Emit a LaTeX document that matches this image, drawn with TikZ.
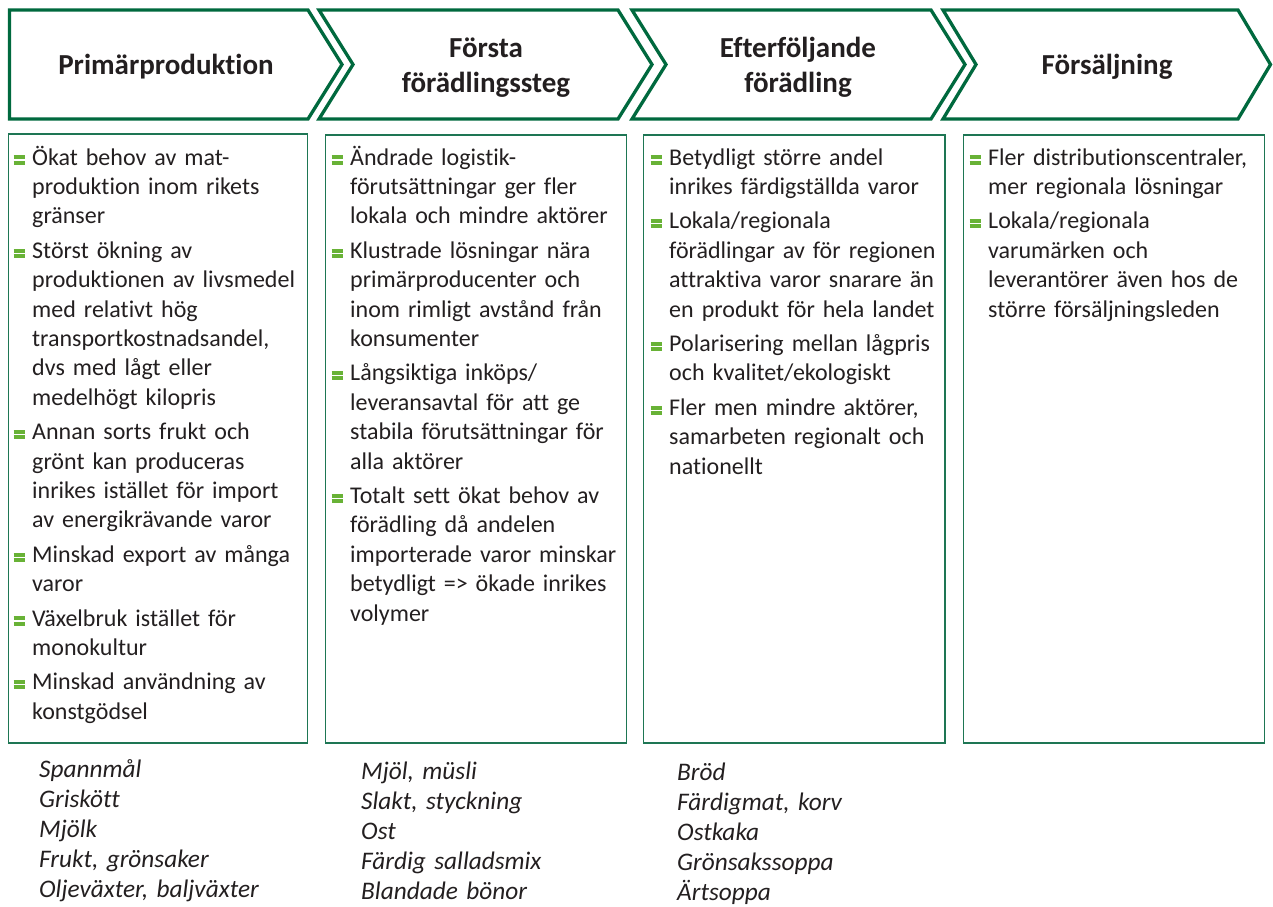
\documentclass[tikz,border=0pt]{standalone}
\usepackage{fontspec}
\setmainfont{Carlito}[Ligatures={NoCommon,TeX}]
\definecolor{dkgreen}{RGB}{0,105,62}
\definecolor{boxgreen}{RGB}{30,118,84}
\definecolor{bulgreen}{RGB}{104,178,54}
\definecolor{txt}{RGB}{35,31,32}
\newcommand\gbul{\leavevmode\llap{\textcolor{bulgreen}{\rlap{\rule[0.4pt]{11.5pt}{4pt}}\rule[5.6pt]{11.5pt}{4pt}}\hspace{7pt}}}
\newcommand\igap{\\[5pt]}
\begin{document}
\begin{tikzpicture}[x=1pt,y=-1pt,
  chev/.style={draw=dkgreen, line width=3.3pt, fill=white, line join=miter},
  colbox/.style={draw=boxgreen, line width=1.6pt},
  head/.style={anchor=base, inner sep=0, align=center, text=txt,
    font=\bfseries\fontsize{29}{35}\selectfont},
  body/.style={anchor=base west, inner sep=0, text width=300pt, align=left, text=txt,
    font=\fontsize{24}{29.4}\selectfont},
  prod/.style={anchor=base west, inner sep=0, text width=300pt, align=left, text=txt,
    font=\itshape\fontsize{25.3}{30}\selectfont}]
\useasboundingbox (0,0) rectangle (1273,906);
% chevrons
\draw[chev] (9.5,10) -- (308,10) -- (342,64.5) -- (308,119) -- (9.5,119) -- cycle;
\draw[chev] (319,10) -- (618,10) -- (652,64.5) -- (618,119) -- (319,119) -- (353,64.5) -- cycle;
\draw[chev] (632,10) -- (931,10) -- (965,64.5) -- (931,119) -- (632,119) -- (666,64.5) -- cycle;
\draw[chev] (943,10) -- (1238,10) -- (1270.5,64.5) -- (1238,119) -- (943,119) -- (976,64.5) -- cycle;
\node[head] (h1) at (166,74) {Primärproduktion};
\node[head] (h2) at (486,92) {Första\\förädlingssteg};
\node[head] (h3) at (798,92) {Efterföljande\\förädling};
\node[head] (h4) at (1107,74) {Försäljning};
% boxes
\draw[colbox] (8.5,134) rectangle (307.5,743);
\draw[colbox] (325.5,135) rectangle (626.5,743);
\draw[colbox] (643.5,135) rectangle (945,743);
\draw[colbox] (963.5,135) rectangle (1264.5,743);
% column texts
\node[body] (c1) at (32,165) {\gbul Ökat behov av mat-\\
produktion inom rikets\\
gränser\igap
\gbul Störst ökning av\\
produktionen av livsmedel\\
med relativt hög\\
transportkostnadsandel,\\
dvs med lågt eller\\
medelhögt kilopris\igap
\gbul Annan sorts frukt och\\
grönt kan produceras\\
inrikes istället för import\\
av energikrävande varor\igap
\gbul Minskad export av många\\
varor\igap
\gbul Växelbruk istället för\\
monokultur\igap
\gbul Minskad användning av\\
konstgödsel};
\node[body] (c2) at (350,165) {\gbul Ändrade logistik-\\
förutsättningar ger fler\\
lokala och mindre aktörer\igap
\gbul Klustrade lösningar nära\\
primärproducenter och\\
inom rimligt avstånd från\\
konsumenter\igap
\gbul Långsiktiga inköps/\\
leveransavtal för att ge\\
stabila förutsättningar för\\
alla aktörer\igap
\gbul Totalt sett ökat behov av\\
förädling då andelen\\
importerade varor minskar\\
betydligt => ökade inrikes\\
volymer};
\node[body] (c3) at (669,165) {\gbul Betydligt större andel\\
inrikes färdigställda varor\igap
\gbul Lokala/regionala\\
förädlingar av för regionen\\
attraktiva varor snarare än\\
en produkt för hela landet\igap
\gbul Polarisering mellan lågpris\\
och kvalitet/ekologiskt\igap
\gbul Fler men mindre aktörer,\\
samarbeten regionalt och\\
nationellt};
\node[body] (c4) at (988,165) {\gbul Fler distributionscentraler,\\
mer regionala lösningar\igap
\gbul Lokala/regionala\\
varumärken och\\
leverantörer även hos de\\
större försäljningsleden};
% products
\node[prod] (p1) at (39,777) {Spannmål\\Griskött\\Mjölk\\Frukt, grönsaker\\Oljeväxter, baljväxter};
\node[prod] (p2) at (361,779) {Mjöl, müsli\\Slakt, styckning\\Ost\\Färdig salladsmix\\Blandade bönor};
\node[prod] (p3) at (677,780) {Bröd\\Färdigmat, korv\\Ostkaka\\Grönsakssoppa\\Ärtsoppa};
\end{tikzpicture}
\end{document}
